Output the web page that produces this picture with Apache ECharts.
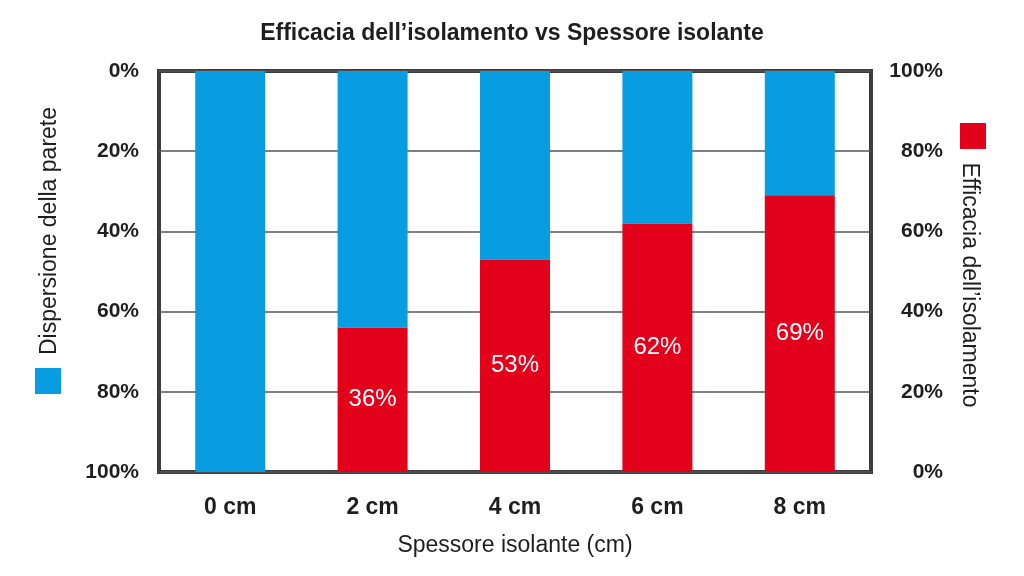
<!DOCTYPE html>
<html>
<head>
<meta charset="utf-8">
<script src="https://cdn.jsdelivr.net/npm/echarts@6/dist/echarts.min.js"></script>
<style>
html,body{margin:0;padding:0;background:#fff;}
#chart{width:1024px;height:576px;}
</style>
</head>
<body>
<div id="chart"></div>
<script>
const categories = ['0 cm', '2 cm', '4 cm', '6 cm', '8 cm'];
const dispersione = [100, 64, 47, 38, 31];
const efficacia = [0, 36, 53, 62, 69];
const titleText = 'Efficacia dell\u2019isolamento vs Spessore isolante';
const xName = 'Spessore isolante (cm)';
const nameDisp = 'Dispersione della parete';
const nameEff = 'Efficacia dell\u2019isolamento';

const FONT = '"Liberation Sans", Arial, sans-serif';
const BLUE = '#079de0';
const RED = '#e2001a';
const TXT = '#1e1e1e';

const chart = echarts.init(document.getElementById('chart'));
chart.setOption({
  backgroundColor: '#fff',
  animation: false,
  title: {
    text: titleText,
    left: 'center',
    top: 17,
    textStyle: { fontFamily: FONT, fontSize: 23, fontWeight: 'bold', color: TXT }
  },
  legend: [
    {
      data: [nameDisp], left: 35, top: 368, itemWidth: 26, itemHeight: 26,
      icon: 'rect', selectedMode: false, formatter: () => '', itemGap: 0,
      padding: 0
    },
    {
      data: [nameEff], left: 960, top: 123, itemWidth: 26, itemHeight: 26,
      icon: 'rect', selectedMode: false, formatter: () => '', itemGap: 0,
      padding: 0
    }
  ],
  graphic: [
    {
      type: 'text', x: 50, y: 231, rotation: Math.PI / 2,
      style: { text: nameDisp, fontFamily: FONT, fontSize: 23, fill: TXT, align: 'center', verticalAlign: 'middle' }
    },
    {
      type: 'text', x: 969, y: 285, rotation: -Math.PI / 2,
      style: { text: nameEff, fontFamily: FONT, fontSize: 23, fill: TXT, align: 'center', verticalAlign: 'middle' }
    }
  ],
  grid: {
    left: 159, right: 153, top: 71, bottom: 104,
    show: true, borderColor: '#3c3c3c', borderWidth: 4, backgroundColor: 'transparent'
  },
  xAxis: {
    type: 'category',
    data: categories,
    name: xName,
    nameLocation: 'middle',
    nameGap: 62,
    nameTextStyle: { fontFamily: FONT, fontSize: 23, color: TXT },
    axisLine: { show: false },
    axisTick: { show: false },
    axisLabel: { margin: 24, fontFamily: FONT, fontSize: 23, fontWeight: 'bold', color: TXT }
  },
  yAxis: [
    {
      type: 'value', min: 0, max: 100, interval: 20, inverse: true,
      axisLine: { show: false }, axisTick: { show: false },
      axisLabel: { margin: 20, fontFamily: FONT, fontSize: 21, fontWeight: 'bold', color: TXT, formatter: '{value}%' },
      splitLine: { show: true, lineStyle: { color: '#555', width: 1.5 } }
    },
    {
      type: 'value', min: 0, max: 100, interval: 20,
      axisLine: { show: false }, axisTick: { show: false },
      axisLabel: { margin: 72, align: 'right', fontFamily: FONT, fontSize: 21, fontWeight: 'bold', color: TXT, formatter: '{value}%' },
      splitLine: { show: false }
    }
  ],
  series: [
    {
      name: nameDisp, type: 'bar', yAxisIndex: 0, data: dispersione,
      barWidth: 70, barGap: '-100%', itemStyle: { color: BLUE }, z: 2
    },
    {
      name: nameEff, type: 'bar', yAxisIndex: 1, data: efficacia,
      barWidth: 70, barGap: '-100%', itemStyle: { color: RED }, z: 3,
      label: {
        show: true, position: 'inside', color: '#fff', fontFamily: FONT, fontSize: 24,
        formatter: p => (p.value ? p.value + '%' : '')
      }
    }
  ]
});
</script>
</body>
</html>
